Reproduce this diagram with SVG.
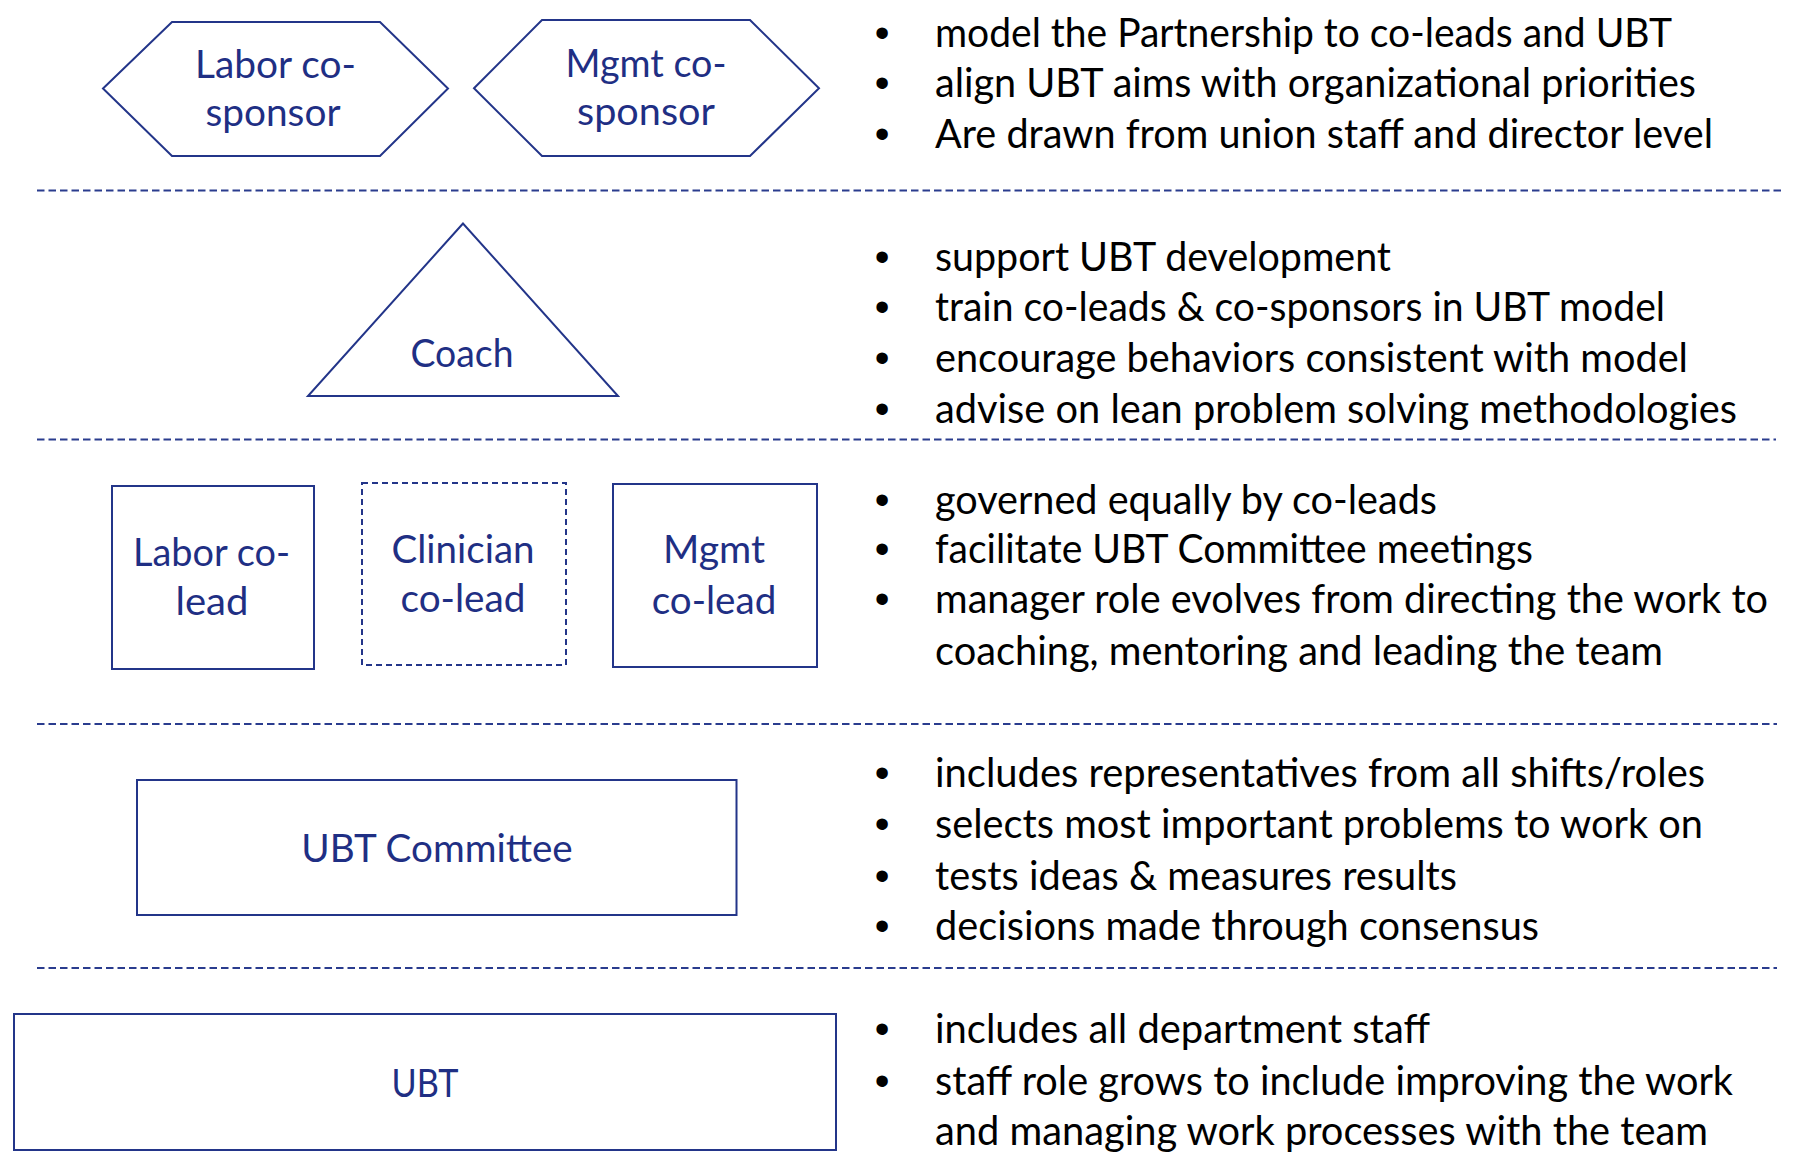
<svg xmlns="http://www.w3.org/2000/svg" width="1797" height="1152" viewBox="0 0 1797 1152">
<style>
.shape{fill:#ffffff;stroke:#233589;stroke-width:2}
.dashbox{fill:#ffffff;stroke:#233589;stroke-width:2;stroke-dasharray:6 4}
.sep{stroke:#2a3c8e;stroke-width:2;stroke-dasharray:7.5 4;fill:none}
.lbl{font-family:Lato,"Open Sans","Liberation Sans",sans-serif;font-size:39px;fill:#1f2f84;text-anchor:middle}
.txt{font-family:Lato,"Open Sans","Liberation Sans",sans-serif;font-size:40px;fill:#000000}
.bul{font-family:"Liberation Sans",Arial,sans-serif;font-size:42px;fill:#000000;text-anchor:middle}
</style>
<rect width="1797" height="1152" fill="#ffffff"/>

<g id="separators">
<line class="sep" x1="37" y1="190.5" x2="1785" y2="190.5"/>
<line class="sep" x1="37" y1="439.5" x2="1776" y2="439.5"/>
<line class="sep" x1="37" y1="724" x2="1777" y2="724"/>
<line class="sep" x1="37" y1="968" x2="1777" y2="968"/>
</g>

<g id="labor-co-sponsor">
<polygon class="shape" points="103,88.5 172,22 380,22 448,88.5 380,156 172,156"/>
<text class="lbl" x="275.5" y="78" textLength="161" lengthAdjust="spacingAndGlyphs">Labor co-</text>
<text class="lbl" x="273" y="126" textLength="135" lengthAdjust="spacingAndGlyphs">sponsor</text>
</g>

<g id="mgmt-co-sponsor">
<polygon class="shape" points="474,88.3 542,20 750,20 819,88.3 750,156 542,156"/>
<text class="lbl" x="646" y="77" textLength="161" lengthAdjust="spacingAndGlyphs">Mgmt co-</text>
<text class="lbl" x="646" y="125" textLength="138" lengthAdjust="spacingAndGlyphs">sponsor</text>
</g>

<g id="coach">
<polygon class="shape" points="463,223.5 308,396 618,396"/>
<text class="lbl" x="462" y="367" textLength="103" lengthAdjust="spacingAndGlyphs">Coach</text>
</g>

<g id="labor-co-lead">
<rect class="shape" x="112" y="486" width="202" height="183"/>
<text class="lbl" x="211.5" y="566" textLength="157" lengthAdjust="spacingAndGlyphs">Labor co-</text>
<text class="lbl" x="212" y="615" textLength="73" lengthAdjust="spacingAndGlyphs">lead</text>
</g>

<g id="clinician-co-lead">
<rect class="dashbox" x="362" y="483" width="204" height="182"/>
<text class="lbl" x="463" y="563" textLength="143" lengthAdjust="spacingAndGlyphs">Clinician</text>
<text class="lbl" x="463" y="612" textLength="125" lengthAdjust="spacingAndGlyphs">co-lead</text>
</g>

<g id="mgmt-co-lead">
<rect class="shape" x="613" y="484" width="204" height="183"/>
<text class="lbl" x="714" y="563" textLength="102" lengthAdjust="spacingAndGlyphs">Mgmt</text>
<text class="lbl" x="714" y="614" textLength="124.5" lengthAdjust="spacingAndGlyphs">co-lead</text>
</g>

<g id="ubt-committee">
<rect class="shape" x="137" y="780" width="599.5" height="135"/>
<text class="lbl" x="437" y="862" textLength="271.5" lengthAdjust="spacingAndGlyphs">UBT Committee</text>
</g>

<g id="ubt">
<rect class="shape" x="14" y="1014" width="822" height="136"/>
<text class="lbl" x="425" y="1097" textLength="67" lengthAdjust="spacingAndGlyphs">UBT</text>
</g>

<g id="notes-sponsors">
<text class="bul" x="882" y="47">•</text>
<text class="bul" x="882" y="97">•</text>
<text class="bul" x="882" y="148">•</text>
<text class="txt" x="935" y="47" textLength="737" lengthAdjust="spacingAndGlyphs">model the Partnership to co-leads and UBT</text>
<text class="txt" x="935" y="97" textLength="761" lengthAdjust="spacingAndGlyphs">align UBT aims with organizational priorities</text>
<text class="txt" x="935" y="148" textLength="778" lengthAdjust="spacingAndGlyphs">Are drawn from union staff and director level</text>
</g>

<g id="notes-coach">
<text class="bul" x="882" y="271">•</text>
<text class="bul" x="882" y="321">•</text>
<text class="bul" x="882" y="372">•</text>
<text class="bul" x="882" y="423">•</text>
<text class="txt" x="935" y="271" textLength="456" lengthAdjust="spacingAndGlyphs">support UBT development</text>
<text class="txt" x="935" y="321" textLength="730" lengthAdjust="spacingAndGlyphs">train co-leads &amp; co-sponsors in UBT model</text>
<text class="txt" x="935" y="372" textLength="753" lengthAdjust="spacingAndGlyphs">encourage behaviors consistent with model</text>
<text class="txt" x="935" y="423" textLength="802" lengthAdjust="spacingAndGlyphs">advise on lean problem solving methodologies</text>
</g>

<g id="notes-co-leads">
<text class="bul" x="882" y="514">•</text>
<text class="bul" x="882" y="563">•</text>
<text class="bul" x="882" y="613">•</text>
<text class="txt" x="935" y="514" textLength="502" lengthAdjust="spacingAndGlyphs">governed equally by co-leads</text>
<text class="txt" x="935" y="563" textLength="598" lengthAdjust="spacingAndGlyphs">facilitate UBT Committee meetings</text>
<text class="txt" x="935" y="613" textLength="833" lengthAdjust="spacingAndGlyphs">manager role evolves from directing the work to</text>
<text class="txt" x="935" y="665" textLength="728" lengthAdjust="spacingAndGlyphs">coaching, mentoring and leading the team</text>
</g>

<g id="notes-committee">
<text class="bul" x="882" y="787">•</text>
<text class="bul" x="882" y="838">•</text>
<text class="bul" x="882" y="890">•</text>
<text class="bul" x="882" y="940">•</text>
<text class="txt" x="935" y="787" textLength="770" lengthAdjust="spacingAndGlyphs">includes representatives from all shifts/roles</text>
<text class="txt" x="935" y="838" textLength="768" lengthAdjust="spacingAndGlyphs">selects most important problems to work on</text>
<text class="txt" x="935" y="890" textLength="522" lengthAdjust="spacingAndGlyphs">tests ideas &amp; measures results</text>
<text class="txt" x="935" y="940" textLength="604" lengthAdjust="spacingAndGlyphs">decisions made through consensus</text>
</g>

<g id="notes-ubt">
<text class="bul" x="882" y="1043">•</text>
<text class="bul" x="882" y="1095">•</text>
<text class="txt" x="935" y="1043" textLength="495" lengthAdjust="spacingAndGlyphs">includes all department staff</text>
<text class="txt" x="935" y="1095" textLength="798" lengthAdjust="spacingAndGlyphs">staff role grows to include improving the work</text>
<text class="txt" x="935" y="1145" textLength="773" lengthAdjust="spacingAndGlyphs">and managing work processes with the team</text>
</g>
</svg>
